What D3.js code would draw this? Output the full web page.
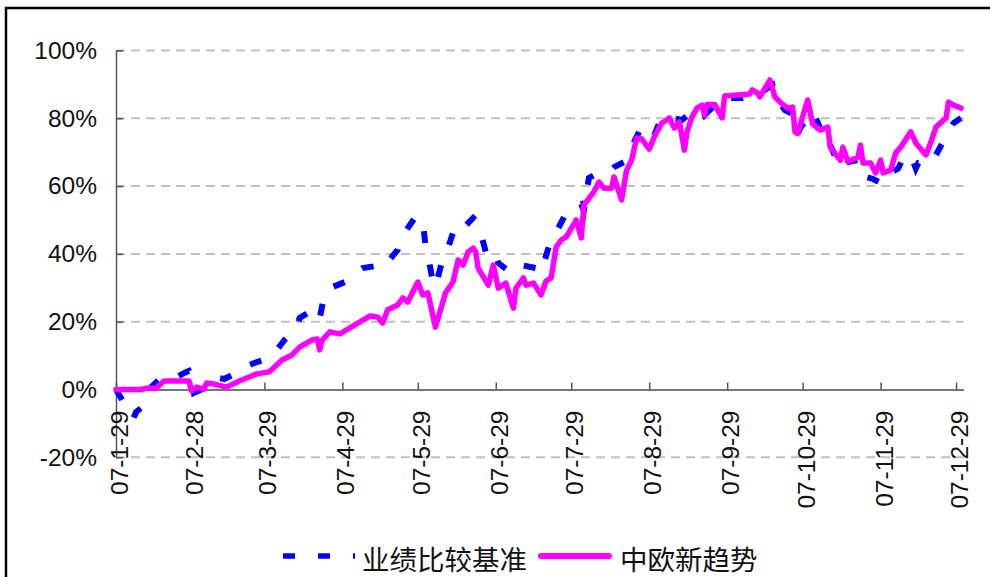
<!DOCTYPE html>
<html>
<head>
<meta charset="utf-8">
<script src="https://cdn.jsdelivr.net/npm/d3@7"></script>
<style>
    body { margin: 0; background: #fff; }
    svg { display: block; }
</style>
</head>
<body>
<svg id="chart" width="990" height="577"></svg>
<script>
// 业绩比较基准 (benchmark) - dashed blue
const bench_dates = ["2007-01-29","2007-01-31","2007-02-03","2007-02-05","2007-02-06","2007-02-08","2007-02-10","2007-02-15","2007-02-19","2007-02-26","2007-02-27","2007-02-28","2007-03-01","2007-03-05","2007-03-07","2007-03-09","2007-03-13","2007-03-18","2007-03-20","2007-03-26","2007-03-31","2007-04-02","2007-04-06","2007-04-11","2007-04-12","2007-04-16","2007-04-19","2007-04-20","2007-04-22","2007-04-25","2007-04-30","2007-05-04","2007-05-07","2007-05-12","2007-05-15","2007-05-16","2007-05-21","2007-05-22","2007-05-25","2007-05-28","2007-05-31","2007-06-01","2007-06-02","2007-06-04","2007-06-05","2007-06-08","2007-06-10","2007-06-13","2007-06-16","2007-06-20","2007-06-22","2007-06-25","2007-06-28","2007-06-30","2007-07-05","2007-07-09","2007-07-15","2007-07-17","2007-07-20","2007-07-22","2007-07-27","2007-07-30","2007-08-02","2007-08-03","2007-08-05","2007-08-08","2007-08-13","2007-08-15","2007-08-19","2007-08-20","2007-08-25","2007-08-27","2007-08-29","2007-08-31","2007-09-03","2007-09-07","2007-09-11","2007-09-14","2007-09-19","2007-09-20","2007-09-24","2007-09-28","2007-10-05","2007-10-08","2007-10-11","2007-10-17","2007-10-18","2007-10-22","2007-10-25","2007-10-27","2007-10-28","2007-11-02","2007-11-03","2007-11-05","2007-11-08","2007-11-09","2007-11-13","2007-11-16","2007-11-20","2007-11-22","2007-11-26","2007-11-30","2007-12-01","2007-12-03","2007-12-06","2007-12-08","2007-12-11","2007-12-13","2007-12-14","2007-12-19","2007-12-21","2007-12-26","2007-12-28","2007-12-31"]
const bench_values = [0,-2.5,-6.6,-8.4,-6.6,-5.5,-0.7,2.8,2.5,5.2,5.5,4,-1,0.4,3.4,3.7,3.1,4.9,6.3,8.1,9.3,10.8,14.6,18.4,21.1,22.9,23.5,21.1,28.5,30.2,31.7,34.4,35.8,36.4,35.8,36.7,41.2,44.1,47.6,50.9,50,42.6,39.7,31.7,30.2,38.8,41.7,48.5,47.6,50.6,49.1,40.6,41.7,37.3,34.4,36.7,35.8,34.4,42,45,52.1,53.8,54.7,52.7,62.4,63.6,64.2,65.6,67.1,68.6,76,76,73.5,75,80.4,80.1,79.5,81.3,82.4,80.9,83.9,86,86,86.3,86.9,89.8,86.6,82.4,81.3,75.5,77.1,81.9,80.4,77.1,77.1,72.1,65.2,67.1,67.7,63,62.1,60.6,62.1,63.9,65.2,68.3,69.2,65.2,66.8,66.8,69.2,76,78.6,80.1]

// 中欧新趋势 (fund) - solid magenta
const fund_dates = ["2007-01-29","2007-02-08","2007-02-10","2007-02-14","2007-02-17","2007-02-27","2007-02-28","2007-03-02","2007-03-05","2007-03-06","2007-03-09","2007-03-14","2007-03-19","2007-03-23","2007-03-26","2007-03-31","2007-04-03","2007-04-05","2007-04-09","2007-04-12","2007-04-14","2007-04-17","2007-04-19","2007-04-20","2007-04-21","2007-04-24","2007-04-28","2007-05-10","2007-05-13","2007-05-15","2007-05-17","2007-05-21","2007-05-23","2007-05-25","2007-05-29","2007-05-31","2007-06-02","2007-06-05","2007-06-09","2007-06-12","2007-06-14","2007-06-16","2007-06-18","2007-06-20","2007-06-21","2007-06-22","2007-06-26","2007-06-28","2007-06-30","2007-07-03","2007-07-06","2007-07-07","2007-07-10","2007-07-11","2007-07-14","2007-07-17","2007-07-19","2007-07-21","2007-07-23","2007-07-25","2007-07-27","2007-07-31","2007-08-02","2007-08-03","2007-08-07","2007-08-09","2007-08-11","2007-08-14","2007-08-15","2007-08-18","2007-08-20","2007-08-22","2007-08-24","2007-08-26","2007-08-29","2007-08-31","2007-09-03","2007-09-05","2007-09-06","2007-09-08","2007-09-10","2007-09-12","2007-09-13","2007-09-15","2007-09-17","2007-09-19","2007-09-20","2007-09-21","2007-09-24","2007-09-27","2007-09-28","2007-10-08","2007-10-09","2007-10-11","2007-10-12","2007-10-16","2007-10-18","2007-10-20","2007-10-23","2007-10-25","2007-10-26","2007-10-27","2007-10-31","2007-11-02","2007-11-05","2007-11-08","2007-11-09","2007-11-13","2007-11-14","2007-11-16","2007-11-20","2007-11-21","2007-11-22","2007-11-25","2007-11-27","2007-11-29","2007-11-30","2007-12-03","2007-12-05","2007-12-07","2007-12-11","2007-12-13","2007-12-17","2007-12-19","2007-12-21","2007-12-25","2007-12-26","2007-12-28","2007-12-31"]
const fund_values = [0,0,0.4,0.4,2.5,2.5,-0.4,0.7,0.1,1.9,1.6,0.7,2.5,3.7,4.6,5.2,7.3,8.7,10.2,12.5,13.4,14.6,14.9,11.7,14.6,17,16.4,21.7,21.4,19.6,23.5,24.9,27,25.8,31.7,27.9,28.5,18.4,28.5,31.7,38.2,36.7,40.6,41.7,40.6,35.8,30.8,36.7,29.9,31.4,24,29.9,32.9,30.8,31.4,27.9,32,32.9,42,44.1,45,50,44.7,54.4,58.3,61.2,59.4,59.4,62.7,55.9,64.7,67.6,74.2,73.9,70.9,74.5,78.6,79.5,80.1,77.1,78.9,70.6,75.9,80.4,83,83.9,80.9,84.1,84.1,80.1,86.6,87.2,88.4,87.5,86.3,91.3,86.3,84.8,83,83.3,75.9,75.5,85.4,78.3,76.5,77.4,71.5,67.6,71.5,67.3,68.5,72.1,66.8,66.8,63.9,67.7,63.9,64.7,69.8,71.5,76,72.7,69.2,73,77.4,80.1,84.8,83.9,83]

const tick_dates = ["2007-01-29","2007-02-28","2007-03-29","2007-04-29","2007-05-29","2007-06-29","2007-07-29","2007-08-29","2007-09-29","2007-10-29","2007-11-29","2007-12-29"]
const tick_labels = ["07-1-29","07-2-28","07-3-29","07-4-29","07-5-29","07-6-29","07-7-29","07-8-29","07-9-29","07-10-29","07-11-29","07-12-29"]
const y_ticks = [-20, 0, 20, 40, 60, 80, 100]
const series_names = ["业绩比较基准", "中欧新趋势"]

const parse_date = d3.timeParse("%Y-%m-%d")
const svg = d3.select("#chart")

// outer frame (only left and top edges fall inside the picture)
svg.append("rect")
    .attr("x", 6).attr("y", 8)
    .attr("width", 1100).attr("height", 700)
    .attr("fill", "none")
    .attr("stroke", "#000")
    .attr("stroke-width", 2.5)

const x = d3.scaleTime()
    .domain([parse_date("2007-01-29"), parse_date("2008-01-01")])
    .range([116, 963.6])
const y = d3.scaleLinear()
    .domain([-20, 100])
    .range([457.3, 50.5])

// grid
svg.append("g")
    .selectAll("line")
    .data(y_ticks.filter(v => v !== 0))
    .join("line")
    .attr("x1", 116).attr("x2", 963.6)
    .attr("y1", d => y(d)).attr("y2", d => y(d))
    .attr("stroke", "#c0c0c0")
    .attr("stroke-width", 2)
    .attr("stroke-dasharray", "9,6")

// y axis
const y_axis = svg.append("g")
    .attr("transform", "translate(116,0)")
    .call(d3.axisLeft(y).tickValues(y_ticks).tickSizeInner(-7).tickSizeOuter(0).tickPadding(19).tickFormat(d => d + "%"))
y_axis.select(".domain").attr("stroke", "#555").attr("stroke-width", 1.5)
y_axis.selectAll(".tick line").attr("stroke", "#555").attr("stroke-width", 1.5)
y_axis.selectAll(".tick text")
    .attr("fill", "#111")
    .style("font-family", "'Liberation Sans', Arial, sans-serif")
    .style("font-size", "24.5px")

// x axis on the 0% line
const x_axis = svg.append("g")
    .attr("transform", `translate(0,${y(0)})`)
    .call(d3.axisBottom(x).tickValues(tick_dates.map(parse_date)).tickSizeInner(-7).tickSizeOuter(0)
        .tickFormat((d, i) => tick_labels[i]))
x_axis.select(".domain").attr("stroke", "#777").attr("stroke-width", 2)
x_axis.selectAll(".tick line").attr("stroke", "#555").attr("stroke-width", 1.5)
x_axis.selectAll(".tick text")
    .attr("fill", "#111")
    .attr("y", 0)
    .attr("dy", 0)
    .attr("text-anchor", "end")
    .attr("dominant-baseline", "central")
    .attr("transform", "translate(3,21) rotate(-90)")
    .style("font-family", "'Liberation Sans', Arial, sans-serif")
    .style("font-size", "24.5px")

const line = d3.line()
    .x(d => x(d.date))
    .y(d => y(d.value))

const bench_data = bench_dates.map((d, i) => ({date: parse_date(d), value: bench_values[i]}))
const fund_data = fund_dates.map((d, i) => ({date: parse_date(d), value: fund_values[i]}))

svg.append("path")
    .datum(bench_data)
    .attr("d", line)
    .attr("fill", "none")
    .attr("stroke", "#0000ff")
    .attr("stroke-width", 6)
    .attr("stroke-dasharray", "12,22")

svg.append("path")
    .datum(fund_data)
    .attr("d", line)
    .attr("fill", "none")
    .attr("stroke", "#ff00ff")
    .attr("stroke-width", 5.5)
    .attr("stroke-linejoin", "round")
    .attr("stroke-linecap", "round")

// legend
const legend = svg.append("g")
legend.append("line")
    .attr("x1", 283).attr("x2", 355).attr("y1", 556).attr("y2", 556)
    .attr("stroke", "#0000ff").attr("stroke-width", 5.5).attr("stroke-dasharray", "12,23")
legend.append("text")
    .attr("x", 362).attr("y", 558)
    .attr("dominant-baseline", "central")
    .style("font-family", "'Noto Sans CJK SC', sans-serif")
    .style("font-size", "27.5px")
    .attr("fill", "#111")
    .text(series_names[0])
legend.append("line")
    .attr("x1", 541).attr("x2", 609).attr("y1", 556).attr("y2", 556)
    .attr("stroke", "#ff00ff").attr("stroke-width", 6).attr("stroke-linecap", "round")
legend.append("text")
    .attr("x", 620).attr("y", 558)
    .attr("dominant-baseline", "central")
    .style("font-family", "'Noto Sans CJK SC', sans-serif")
    .style("font-size", "27.5px")
    .attr("fill", "#111")
    .text(series_names[1])
</script>
</body>
</html>
